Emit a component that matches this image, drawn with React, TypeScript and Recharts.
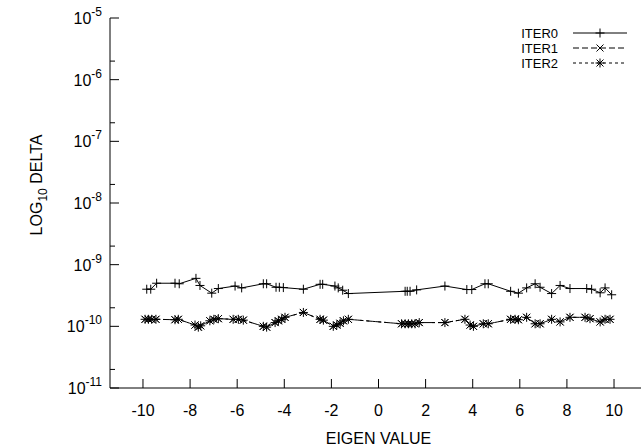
import React from 'react';
import { LineChart, Line, XAxis, YAxis, Legend } from 'recharts';

const FONT = '"Liberation Sans", Arial, Helvetica, sans-serif';

// eigen values and deltas
const iter0Eigen = [
  -9.84, -9.67, -9.42, -8.64, -8.46, -7.75, -7.58, -7.08, -6.8, -6.09, -5.81,
  -4.89, -4.75, -4.35, -4.21, -4.04, -3.19, -2.48, -2.37, -1.85, -1.71, -1.52, -1.28,
  1.13, 1.22, 1.34, 1.62, 2.82, 3.75, 3.96, 4.52, 4.66, 5.61, 5.94, 6.29, 6.65, 6.86,
  7.35, 7.71, 8.13, 8.84, 9.05, 9.41, 9.62, 9.9,
];
const iter0Delta = [
  4.0e-10, 4.0e-10, 5.0e-10, 5.0e-10, 4.9e-10, 6.0e-10, 4.6e-10, 3.45e-10, 4.1e-10, 4.5e-10, 4.2e-10,
  4.9e-10, 4.9e-10, 4.3e-10, 4.3e-10, 4.25e-10, 4.0e-10, 4.8e-10, 4.8e-10, 4.5e-10, 4.2e-10, 3.85e-10, 3.4e-10,
  3.7e-10, 3.7e-10, 3.7e-10, 3.9e-10, 4.5e-10, 3.95e-10, 3.95e-10, 4.9e-10, 4.9e-10, 3.7e-10, 3.45e-10, 4.2e-10, 4.9e-10, 4.3e-10,
  3.4e-10, 4.6e-10, 4.1e-10, 4.1e-10, 4.0e-10, 3.5e-10, 4.2e-10, 3.25e-10,
];

const iter1Eigen = [
  -9.91, -9.77, -9.63, -9.45, -8.64, -8.5, -7.79, -7.65, -7.55, -7.16, -6.99, -6.8,
  -6.17, -5.95, -5.74, -4.89, -4.75, -4.39, -4.25, -4.11, -3.97, -3.19, -2.48, -2.34,
  -1.92, -1.77, -1.63, -1.49, -1.28, 0.98, 1.13, 1.27, 1.41, 1.55, 1.73, 2.82, 3.67,
  3.89, 4.03, 4.45, 4.66, 5.61, 5.8, 5.94, 6.29, 6.65, 6.86, 7.35, 7.71, 8.13, 8.77,
  8.98, 9.41, 9.62, 9.83,
];
const iter1Delta = [
  1.3e-10, 1.3e-10, 1.3e-10, 1.3e-10, 1.28e-10, 1.3e-10, 1.05e-10, 0.97e-10, 1.02e-10, 1.23e-10, 1.3e-10, 1.33e-10,
  1.3e-10, 1.3e-10, 1.26e-10, 1.0e-10, 0.97e-10, 1.15e-10, 1.23e-10, 1.3e-10, 1.4e-10, 1.68e-10, 1.3e-10, 1.26e-10,
  1.0e-10, 1.05e-10, 1.12e-10, 1.23e-10, 1.3e-10, 1.1e-10, 1.1e-10, 1.1e-10, 1.1e-10, 1.1e-10, 1.15e-10, 1.15e-10, 1.3e-10,
  1.05e-10, 1.0e-10, 1.1e-10, 1.1e-10, 1.3e-10, 1.3e-10, 1.28e-10, 1.4e-10, 1.1e-10, 1.1e-10, 1.3e-10, 1.18e-10, 1.4e-10, 1.4e-10,
  1.33e-10, 1.18e-10, 1.3e-10, 1.3e-10,
];

const iter2Eigen = [
  -9.91, -9.77, -9.63, -9.45, -8.64, -8.5, -7.79, -7.65, -7.55, -7.16, -6.99, -6.8,
  -6.17, -5.95, -5.74, -4.89, -4.75, -4.39, -4.25, -4.11, -3.97, -3.19, -2.48, -2.34,
  -1.92, -1.77, -1.63, -1.49, -1.28, 0.98, 1.13, 1.27, 1.41, 1.55, 1.73, 2.82, 3.67,
  3.89, 4.03, 4.45, 4.66, 5.61, 5.8, 5.94, 6.29, 6.65, 6.86, 7.35, 7.71, 8.13, 8.77,
  8.98, 9.41, 9.62, 9.83,
];
const iter2Delta = [
  1.3e-10, 1.3e-10, 1.3e-10, 1.3e-10, 1.28e-10, 1.3e-10, 1.05e-10, 0.97e-10, 1.02e-10, 1.23e-10, 1.3e-10, 1.33e-10,
  1.3e-10, 1.3e-10, 1.26e-10, 1.0e-10, 0.97e-10, 1.15e-10, 1.23e-10, 1.3e-10, 1.4e-10, 1.68e-10, 1.3e-10, 1.26e-10,
  1.0e-10, 1.05e-10, 1.12e-10, 1.23e-10, 1.3e-10, 1.1e-10, 1.1e-10, 1.1e-10, 1.1e-10, 1.1e-10, 1.15e-10, 1.15e-10, 1.3e-10,
  1.05e-10, 1.0e-10, 1.1e-10, 1.1e-10, 1.3e-10, 1.3e-10, 1.28e-10, 1.4e-10, 1.1e-10, 1.1e-10, 1.3e-10, 1.18e-10, 1.4e-10, 1.4e-10,
  1.33e-10, 1.18e-10, 1.3e-10, 1.3e-10,
];

const xTicks = [-10, -8, -6, -4, -2, 0, 2, 4, 6, 8, 10];
const yTicks = [1e-11, 2e-11, 1e-10, 2e-10, 1e-9, 2e-9, 1e-8, 2e-8, 1e-7, 2e-7, 1e-6, 2e-6, 1e-5];

const toRows = (xs: number[], ys: number[]) => xs.map((x, i) => ({ x, y: ys[i] }));

const PlusMark = ({ cx, cy }: any) => (
  <g stroke="#000" strokeWidth={1}>
    <line x1={cx - 4.5} x2={cx + 4.5} y1={cy} y2={cy} />
    <line x1={cx} x2={cx} y1={cy - 4.5} y2={cy + 4.5} />
  </g>
);
const CrossMark = ({ cx, cy }: any) => (
  <g stroke="#000" strokeWidth={1}>
    <line x1={cx - 3.5} x2={cx + 3.5} y1={cy - 3.5} y2={cy + 3.5} />
    <line x1={cx - 3.5} x2={cx + 3.5} y1={cy + 3.5} y2={cy - 3.5} />
  </g>
);
const StarMark = ({ cx, cy }: any) => (
  <g>
    <PlusMark cx={cx} cy={cy} />
    <CrossMark cx={cx} cy={cy} />
  </g>
);

const series = [
  { name: 'ITER0', rows: toRows(iter0Eigen, iter0Delta), dash: undefined, Mark: PlusMark },
  { name: 'ITER1', rows: toRows(iter1Eigen, iter1Delta), dash: '6 3', Mark: CrossMark },
  { name: 'ITER2', rows: toRows(iter2Eigen, iter2Delta), dash: '3 3', Mark: StarMark },
];

const XTick = ({ x, y, payload }: any) => (
  <g>
    <line x1={x} x2={x} y1={y} y2={y - 9} stroke="#000" />
    <text x={x} y={y + 28} textAnchor="middle" fontSize={16} fontFamily={FONT} fill="#000">
      {payload.value}
    </text>
  </g>
);

const TopTick = ({ x, y }: any) => <line x1={x} x2={x} y1={y} y2={y + 9} stroke="#000" />;

const YTick = ({ x, y, payload }: any) => {
  const lg = Math.log10(payload.value);
  const exp = Math.round(lg);
  const major = Math.abs(lg - exp) < 1e-6;
  return (
    <g>
      <line x1={x} x2={x + (major ? 9 : 5)} y1={y} y2={y} stroke="#000" />
      {major && (
        <text x={x - 8} y={y + 6} textAnchor="end" fontSize={16} fontFamily={FONT} fill="#000">
          10<tspan dy={-8} fontSize={12}>{exp}</tspan>
        </text>
      )}
    </g>
  );
};

const LegendBox = () => (
  <svg width={180} height={56}>
    {series.map((s, i) => {
      const cy = 9 + i * 15;
      return (
        <g key={s.name}>
          <text x={93} y={cy + 5} textAnchor="end" fontSize={13} fontFamily={FONT} fill="#000">
            {s.name}
          </text>
          <line x1={108} x2={162} y1={cy} y2={cy} stroke="#000" strokeDasharray={s.dash} />
          <s.Mark cx={135} cy={cy} />
        </g>
      );
    })}
  </svg>
);

export default function App() {
  return (
    <div style={{ position: 'fixed', left: 0, top: 0, width: 641, height: 448, overflow: 'hidden', background: '#fff' }}>
      <LineChart width={657} height={448} margin={{ top: 18, right: 10, bottom: 0, left: 10 }}>
        <XAxis
          dataKey="x"
          type="number"
          domain={[-11.4, 11.4]}
          ticks={xTicks}
          interval={0}
          allowDataOverflow
          height={60}
          tickSize={0}
          tickMargin={0}
          tickLine={false}
          stroke="#000"
          tick={<XTick />}
          label={{ value: 'EIGEN VALUE', position: 'insideBottom', offset: 4, fontSize: 16, fontFamily: FONT, fill: '#000' }}
        />
        <XAxis
          xAxisId="top"
          orientation="top"
          type="number"
          domain={[-11.4, 11.4]}
          ticks={xTicks}
          interval={0}
          allowDataOverflow
          height={0}
          tickSize={0}
          tickMargin={0}
          tickLine={false}
          stroke="#000"
          tick={<TopTick />}
        />
        <YAxis
          type="number"
          scale="log"
          domain={[1e-11, 1e-5]}
          ticks={yTicks}
          interval={0}
          allowDataOverflow
          width={100}
          tickSize={0}
          tickMargin={0}
          tickLine={false}
          stroke="#000"
          tick={<YTick />}
          label={
            <text x={42} y={203} transform="rotate(-90 42 203)" textAnchor="middle" fontSize={16} fontFamily={FONT} fill="#000">
              LOG<tspan dy={5} fontSize={12}>10</tspan><tspan dy={-5}> DELTA</tspan>
            </text>
          }
        />
        <Legend
          layout="vertical"
          align="center"
          verticalAlign="middle"
          content={<LegendBox />}
          wrapperStyle={{ top: 24, left: 465, width: 180, height: 56 }}
        />
        {series.map((s) => (
          <Line
            key={s.name}
            data={s.rows}
            dataKey="y"
            name={s.name}
            stroke="#000"
            strokeWidth={1}
            strokeDasharray={s.dash}
            isAnimationActive={false}
            dot={(p: any) => <s.Mark key={`${s.name}-${p.index}`} cx={p.cx} cy={p.cy} />}
            activeDot={false}
          />
        ))}
      </LineChart>
    </div>
  );
}
